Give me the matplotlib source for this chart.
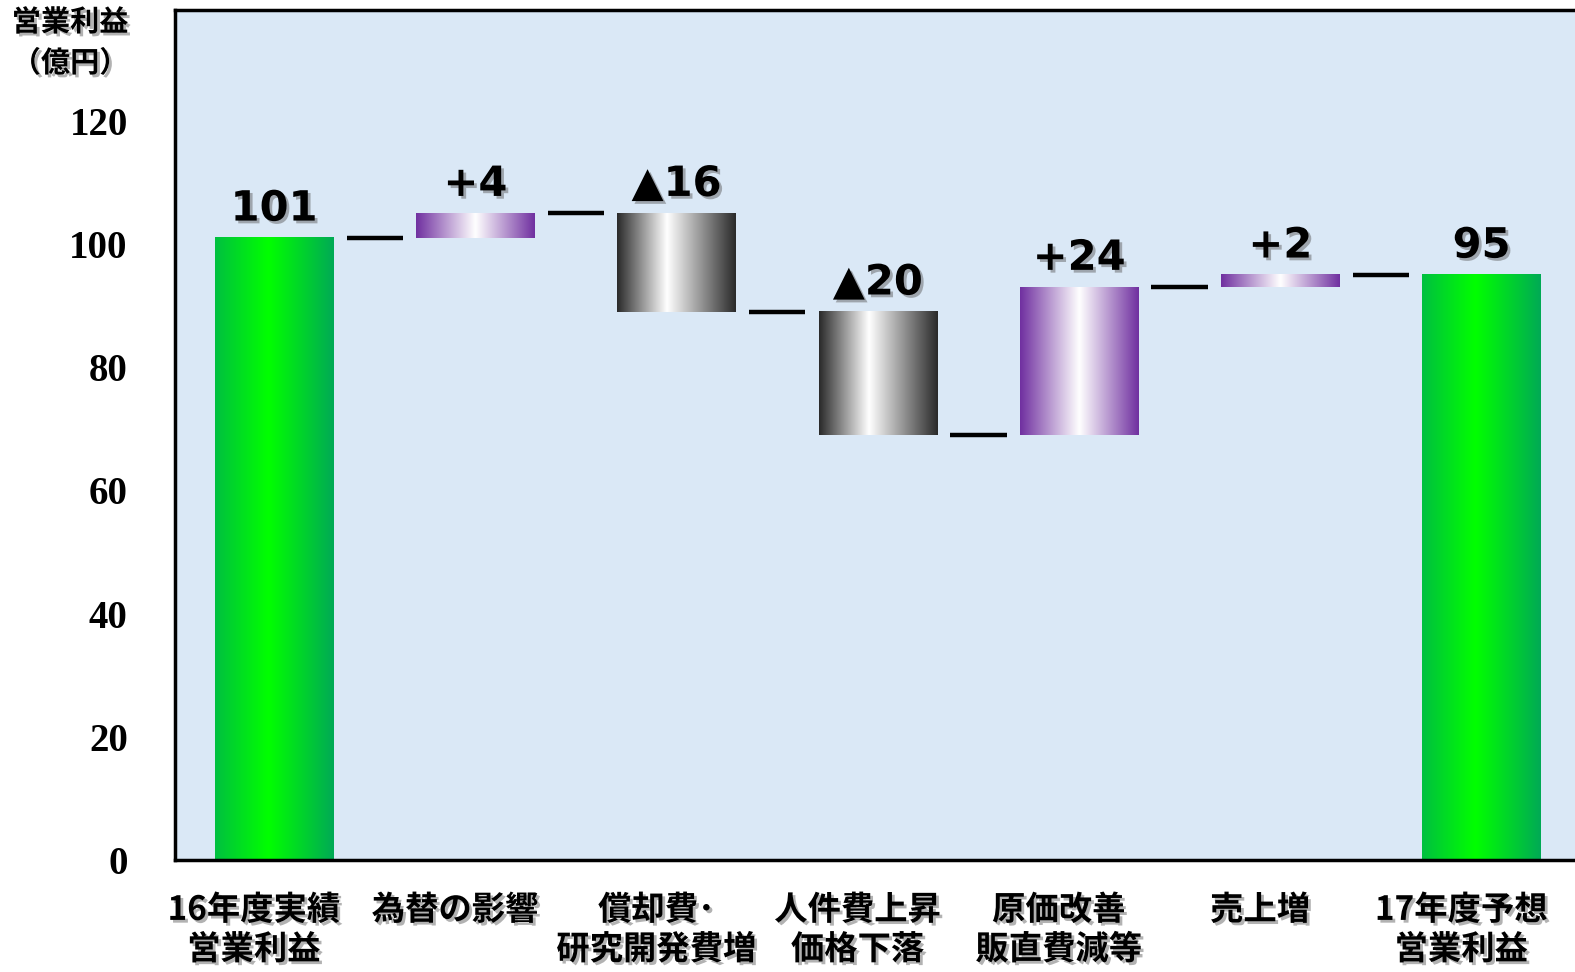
import numpy as np
import matplotlib
matplotlib.use('Agg')
import matplotlib.pyplot as plt
import matplotlib.patheffects as pe
from matplotlib.colors import LinearSegmentedColormap

# 営業利益の増減要因（億円）
categories = ['16年度実績\n営業利益', '為替の影響', '償却費･\n研究開発費増',
              '人件費上昇\n価格下落', '原価改善\n販直費減等', '売上増', '17年度予想\n営業利益']
changes = [101, 4, -16, -20, 24, 2, 95]
value_labels = ['101', '+4', '▲16', '▲20', '+24', '+2', '95']
kinds = ['total', 'up', 'down', 'down', 'up', 'up', 'total']
yticks = [0, 20, 40, 60, 80, 100, 120]

# 積み上げ位置を計算
bottoms, tops = [], []
level = 0
for k, v in zip(kinds, changes):
    if k == 'total':
        bottoms.append(0)
        tops.append(v)
        level = v
    else:
        new = level + v
        bottoms.append(min(level, new))
        tops.append(max(level, new))
        level = new

cmaps = {
    'total': LinearSegmentedColormap.from_list('g', [(0.0, '#00c040'), (0.45, '#00ff00'), (1.0, '#00aa55')]),
    'up': LinearSegmentedColormap.from_list('p', [(0.0, '#7030a0'), (0.5, '#ffffff'), (1.0, '#7030a0')]),
    'down': LinearSegmentedColormap.from_list('k', [(0.0, '#2a2a2a'), (0.42, '#ffffff'), (1.0, '#2a2a2a')]),
}

cjk = ['Noto Sans CJK JP', 'DejaVu Sans']
shadow = [pe.withSimplePatchShadow(offset=(2, -2), shadow_rgbFace='#555555', alpha=0.45)]

fig = plt.figure(figsize=(15.75, 9.72), dpi=100)
ax = fig.add_axes([0.1111, 0.1152, 0.91, 0.8745])
ax.set_facecolor('#dae8f6')

x = np.arange(len(categories))
width = 0.587
bars = ax.bar(x, np.array(tops) - np.array(bottoms), bottom=bottoms, width=width,
              color='none', edgecolor='none', zorder=2)

grad = np.linspace(0, 1, 256).reshape(1, -1)
for bar, k in zip(bars, kinds):
    x0, y0 = bar.get_x(), bar.get_y()
    ax.imshow(grad, cmap=cmaps[k], aspect='auto', interpolation='bicubic',
              extent=(x0, x0 + bar.get_width(), y0, y0 + bar.get_height()), zorder=2)

# 棒の間のつなぎ線
level = 0
for i in range(len(categories) - 1):
    if kinds[i] == 'total':
        level = changes[i]
    else:
        level = level + changes[i]
    ax.plot([i + 0.36, i + 0.64], [level, level], color='black', lw=3.2,
            solid_capstyle='butt', zorder=3)

for xi, top, lab in zip(x, tops, value_labels):
    ax.annotate(lab, (xi, top), xytext=(0, 6), textcoords='offset points',
                ha='center', va='bottom', fontsize=30, fontweight='bold',
                family=['DejaVu Sans'], path_effects=shadow, zorder=4)

ax.set_xlim(-0.4925, 6.63)
ax.set_ylim(0, 138)
ax.set_yticks(yticks)
ax.set_yticklabels([str(t) for t in yticks], family='Liberation Serif',
                   fontsize=28, fontweight='bold')
ax.tick_params(axis='y', length=0, pad=34)
ax.set_xticks([])

for s in ['left', 'top', 'bottom', 'right']:
    ax.spines[s].set_linewidth(2.5)
    ax.spines[s].set_color('black')

for xi, cat in zip(x, categories):
    ax.text(xi - 0.1, -5.5, cat, ha='center', va='top', fontsize=24, fontweight='bold',
            family=cjk, linespacing=1.25, path_effects=shadow)

fig.text(70 / 1575, 1 - 22 / 972, '営業利益', ha='center', va='center', fontsize=21,
         fontweight='bold', family=cjk, path_effects=shadow)
fig.text(70 / 1575, 1 - 63 / 972, '（億円）', ha='center', va='center', fontsize=21,
         fontweight='bold', family=cjk, path_effects=shadow)

fig.savefig('out.png', dpi=100)
